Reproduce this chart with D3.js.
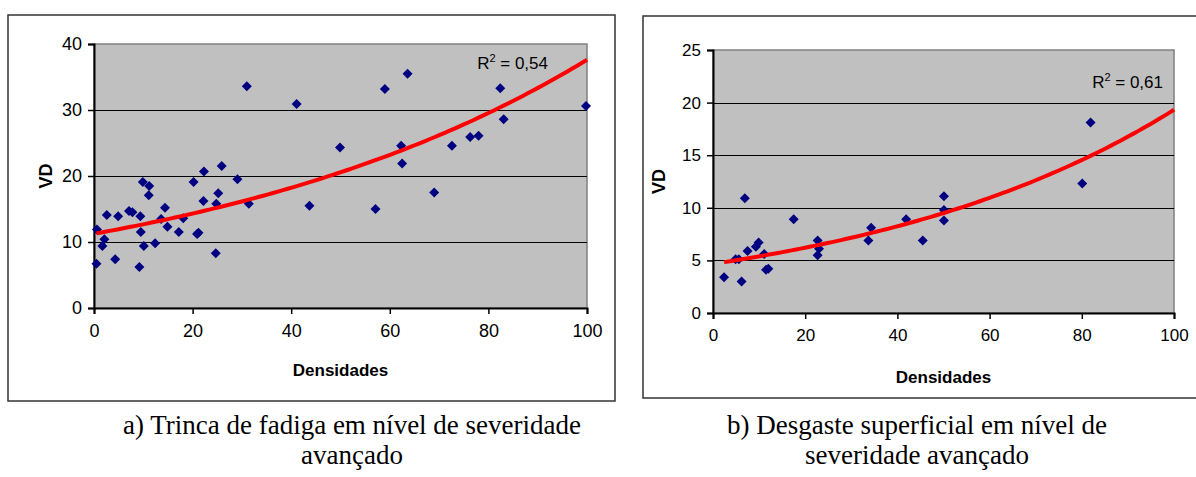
<!DOCTYPE html>
<html>
<head>
<meta charset="utf-8">
<script src="https://cdn.jsdelivr.net/npm/d3@7"></script>
<style>
  body { margin: 0; background: #fff; }
  svg { display: block; }
</style>
</head>
<body>
<div id="fig"></div>
<script>
// dati letti dal grafico a) trinca de fadiga
var densA = [0.5, 0.6, 1.7, 2.1, 2.6, 4.3, 4.9, 7.1, 7.8, 9.2, 9.4, 9.5, 9.9, 10.1, 11.1, 11.2,
  12.4, 13.6, 14.4, 14.9, 17.2, 18.1, 20.2, 20.9, 21.2, 22.2, 22.3, 24.7, 24.8, 25.2, 25.9,
  29.1, 31.0, 31.4, 41.1, 43.7, 49.9, 57.1, 59.0, 62.3, 62.5, 63.6, 69.0, 72.6, 76.3, 78.0,
  82.4, 83.1, 99.8];
var vdA = [6.7, 11.9, 9.4, 10.4, 14.1, 7.4, 13.9, 14.7, 14.5, 6.2, 13.9, 11.5, 19.1, 9.4, 17.1, 18.5,
  9.8, 13.5, 15.2, 12.3, 11.5, 13.6, 19.1, 11.2, 11.4, 16.2, 20.7, 8.3, 15.8, 17.4, 21.5,
  19.5, 33.6, 15.8, 30.9, 15.5, 24.3, 15.0, 33.2, 24.6, 21.9, 35.5, 17.5, 24.6, 25.9, 26.1,
  33.3, 28.6, 30.6];

// dati letti dal grafico b) desgaste superficial
var densB = [2.4, 4.9, 5.6, 6.2, 6.9, 7.5, 9.3, 9.9, 11.1, 11.5, 12.0, 17.5, 22.7, 22.7, 23.0,
  33.7, 34.3, 41.9, 45.5, 50.1, 50.1, 50.1, 80.1, 81.9];
var vdB = [3.4, 5.1, 5.1, 3.0, 10.9, 5.9, 6.3, 6.7, 5.6, 4.1, 4.2, 8.9, 6.9, 5.5, 6.1,
  6.9, 8.1, 8.9, 6.9, 11.1, 9.8, 8.8, 12.3, 18.1];

// tick e testi
var xTicks = [0, 20, 40, 60, 80, 100];
var yTicksA = [0, 10, 20, 30, 40];
var yTicksB = [0, 5, 10, 15, 20, 25];
var r2A = "0,54";
var r2B = "0,61";
var captionA = ["a) Trinca de fadiga em nível de severidade", "avançado"];
var captionB = ["b) Desgaste superficial em nível de", "severidade avançado"];

var svg = d3.select("#fig")
  .append("svg")
    .attr("width", 1196)
    .attr("height", 477);

// regressione esponenziale (come la linea di tendenza di Excel)
function expFit(xs, ys) {
  var n = xs.length, sx = 0, sy = 0, sxx = 0, sxy = 0;
  for (var i = 0; i < n; i++) {
    var ly = Math.log(ys[i]);
    sx += xs[i]; sy += ly; sxx += xs[i] * xs[i]; sxy += xs[i] * ly;
  }
  var b = (n * sxy - sx * sy) / (n * sxx - sx * sx);
  var a = Math.exp((sy - b * sx) / n);
  return { a: a, b: b };
}

function drawChart(cfg) {
  // cornice esterna
  svg.append("rect")
    .attr("x", cfg.box.x).attr("y", cfg.box.y)
    .attr("width", cfg.box.w).attr("height", cfg.box.h)
    .attr("fill", "#fff")
    .attr("stroke", "#333")
    .attr("stroke-width", 1.5);

  var g = svg.append("g")
    .attr("transform", "translate(" + cfg.plot.x + "," + cfg.plot.y + ")");
  var w = cfg.plot.w, h = cfg.plot.h;

  var x = d3.scaleLinear().domain([0, 100]).range([0, w]);
  var y = d3.scaleLinear().domain(cfg.yDomain).range([h, 0]);

  // area del grafico
  g.append("rect")
    .attr("width", w).attr("height", h)
    .attr("fill", "#c0c0c0")
    .attr("stroke", "#808080")
    .attr("stroke-width", 1.5);

  // griglia
  g.append("g")
    .selectAll("line")
    .data(cfg.yTicks.filter(function(d) { return d > cfg.yDomain[0] && d < cfg.yDomain[1]; }))
    .enter()
    .append("line")
      .attr("x1", 0).attr("x2", w)
      .attr("y1", function(d) { return Math.round(y(d)) + 0.5; })
      .attr("y2", function(d) { return Math.round(y(d)) + 0.5; })
      .attr("stroke", "#000")
      .attr("stroke-width", 1);

  // assi
  var ax = g.append("g")
    .attr("transform", "translate(0," + h + ")")
    .call(d3.axisBottom(x).tickValues(xTicks).tickSizeOuter(0).tickSize(6).tickPadding(cfg.xPad));
  var ay = g.append("g")
    .call(d3.axisLeft(y).tickValues(cfg.yTicks).tickSizeOuter(0).tickSize(6).tickPadding(6));
  [ax, ay].forEach(function(a) {
    a.selectAll("text")
      .style("font-family", "'Liberation Sans', Arial, sans-serif")
      .style("font-size", cfg.fs + "px")
      .attr("fill", "#000");
    a.selectAll("line").attr("stroke", "#000").attr("stroke-width", 1.5);
    a.select(".domain").attr("stroke", "#000").attr("stroke-width", 2);
  });

  // linea di tendenza
  var fit = expFit(cfg.xs, cfg.ys);
  var x0 = d3.min(cfg.xs);
  var curve = d3.range(0, 101).map(function(i) {
    var xv = x0 + (100 - x0) * i / 100;
    return [xv, fit.a * Math.exp(fit.b * xv)];
  });

  // punti
  var pts = cfg.xs.map(function(d, i) { return [d, cfg.ys[i]]; });
  g.selectAll(".pt")
    .data(pts)
    .enter()
    .append("path")
      .attr("class", "pt")
      .attr("d", d3.symbol(d3.symbolSquare, 50))
      .attr("transform", function(d) { return "translate(" + x(d[0]) + "," + y(d[1]) + ") rotate(45)"; })
      .attr("fill", "#000080");

  g.append("path")
    .datum(curve)
    .attr("fill", "none")
    .attr("stroke", "#ff0000")
    .attr("stroke-width", 4)
    .attr("d", d3.line()
      .x(function(d) { return x(d[0]); })
      .y(function(d) { return y(d[1]); }));

  // R²
  var r2 = g.append("text")
    .attr("x", w - cfg.r2.dx)
    .attr("y", cfg.r2.dy)
    .attr("text-anchor", "end")
    .style("font-family", "'Liberation Sans', Arial, sans-serif")
    .style("font-size", "17px");
  r2.append("tspan").text("R");
  r2.append("tspan").attr("dy", -7).style("font-size", "11px").text("2");
  r2.append("tspan").attr("dy", 7).text(" = " + cfg.r2Text);

  // titoli assi
  g.append("text")
    .attr("x", w / 2)
    .attr("y", h + cfg.xTitleY)
    .attr("text-anchor", "middle")
    .style("font-family", "'Liberation Sans', Arial, sans-serif")
    .style("font-size", "17px")
    .style("font-weight", "bold")
    .text("Densidades");
  g.append("text")
    .attr("transform", "translate(" + cfg.yTitleX + "," + (h / 2) + ") rotate(-90)")
    .attr("text-anchor", "middle")
    .style("font-family", "'Liberation Sans', Arial, sans-serif")
    .style("font-size", "18px")
    .style("font-weight", "bold")
    .text("VD");

  // didascalia
  svg.append("g")
    .selectAll("text")
    .data(cfg.caption)
    .enter()
    .append("text")
      .attr("x", cfg.capX)
      .attr("y", function(d, i) { return 434 + i * 30; })
      .attr("text-anchor", "middle")
      .style("font-family", "'Liberation Serif', 'Times New Roman', serif")
      .style("font-size", "27px")
      .text(function(d) { return d; });
}

drawChart({
  box: { x: 8, y: 15, w: 607, h: 386 },
  plot: { x: 94, y: 44, w: 493, h: 264 },
  yDomain: [0, 40], yTicks: yTicksA,
  xs: densA, ys: vdA, fs: 18, xPad: 10,
  r2: { dx: 39, dy: 25 }, r2Text: r2A,
  xTitleY: 68, yTitleX: -42,
  caption: captionA, capX: 352
});

drawChart({
  box: { x: 643, y: 16, w: 556, h: 382 },
  plot: { x: 713, y: 50, w: 461, h: 263 },
  yDomain: [0, 25], yTicks: yTicksB,
  xs: densB, ys: vdB, fs: 17, xPad: 10,
  r2: { dx: 11, dy: 38 }, r2Text: r2B,
  xTitleY: 70, yTitleX: -48,
  caption: captionB, capX: 917
});
</script>
</body>
</html>
